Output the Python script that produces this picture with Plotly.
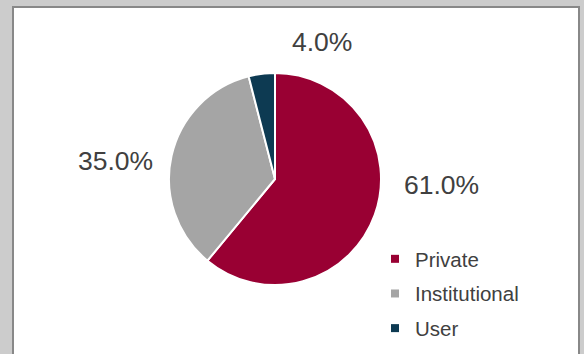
import plotly.graph_objects as go

labels = ["Private", "Institutional", "User"]
values = [61.0, 35.0, 4.0]
colors = ["#990033", "#A5A5A5", "#0D3A52"]
label_pos = [(441, 185), (115, 161), (322, 42)]

W, H = 584, 354

fig = go.Figure()
fig.add_trace(go.Pie(
    labels=labels, values=values, sort=False, direction="clockwise", rotation=0,
    marker=dict(colors=colors, line=dict(color="white", width=2)),
    textinfo="none", hoverinfo="label+percent", showlegend=False,
    domain=dict(x=[169 / W, 381 / W], y=[1 - 286 / H, 1 - 72 / H]),
))

# legend entries (one per category) built from the same data lists
for lab, col in zip(labels, colors):
    fig.add_trace(go.Scatter(
        x=[None], y=[None], mode="markers", name=lab, legendgroup=lab,
        marker=dict(symbol="square", size=8, color=col), hoverinfo="skip",
    ))

total = sum(values)
for v, (px, py) in zip(values, label_pos):
    fig.add_annotation(x=px / W, y=1 - py / H, xref="paper", yref="paper",
                       text=f"{v / total * 100:.1f}%", showarrow=False,
                       font=dict(family="Liberation Sans, Arial", size=26.5, color="#404040"),
                       xanchor="center", yanchor="middle")

fig.add_shape(type="rect", xref="paper", yref="paper",
              x0=13 / W, x1=579 / W, y0=-0.1, y1=1 - 7 / H,
              fillcolor="white", line=dict(color="#888888", width=2), layer="below")

fig.update_layout(
    width=W, height=H, margin=dict(l=0, r=0, t=0, b=0),
    paper_bgcolor="#cccccc", plot_bgcolor="rgba(0,0,0,0)",
    xaxis=dict(visible=False), yaxis=dict(visible=False),
    showlegend=True,
    legend=dict(x=375 / W, y=1 - 239 / H, xanchor="left", yanchor="top",
                font=dict(family="Liberation Sans, Arial", size=20.5, color="#404040"),
                bgcolor="rgba(0,0,0,0)", itemwidth=30, tracegroupgap=5),
)

fig.write_html("out.html")
